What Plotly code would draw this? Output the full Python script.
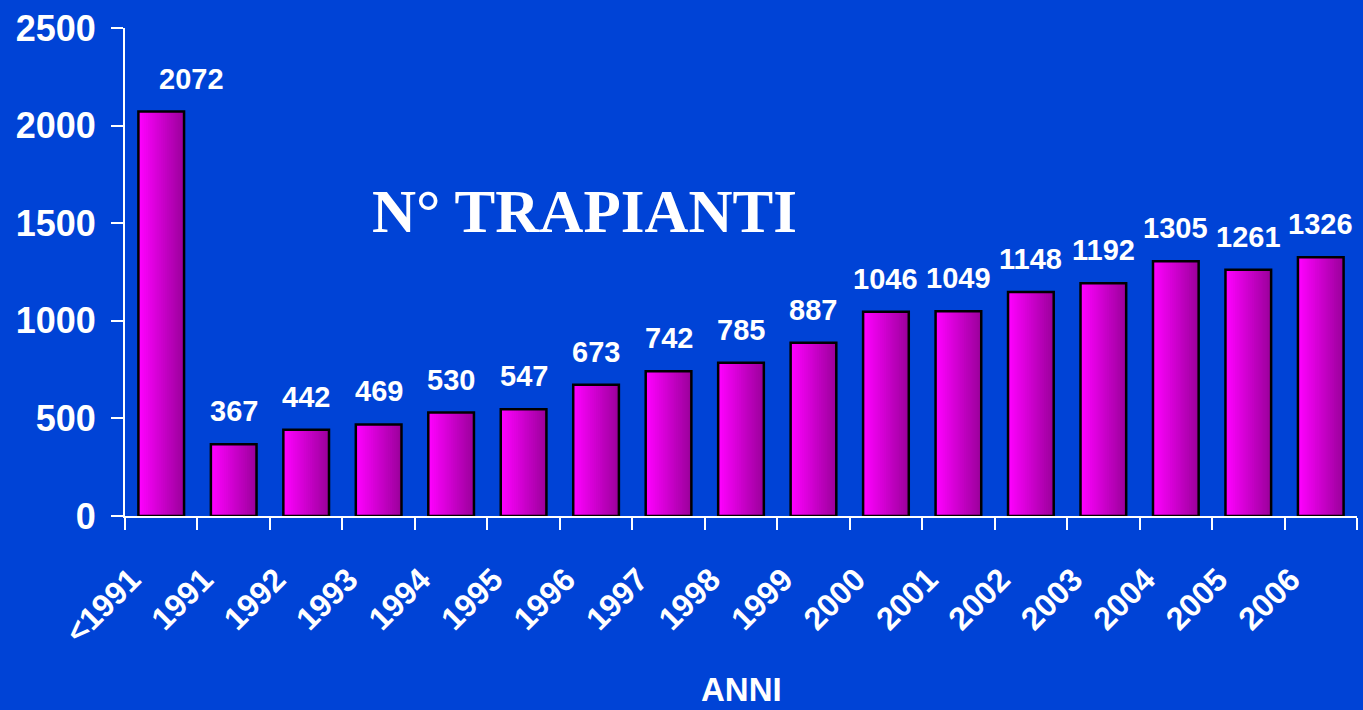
import plotly.graph_objects as go

categories = ["<1991", "1991", "1992", "1993", "1994", "1995", "1996", "1997", "1998",
              "1999", "2000", "2001", "2002", "2003", "2004", "2005", "2006"]
values = [2072, 367, 442, 469, 530, 547, 673, 742, 785, 887, 1046, 1049, 1148, 1192, 1305, 1261, 1326]
y_ticks = [0, 500, 1000, 1500, 2000, 2500]

BG = "#0043D6"
FONT = "Liberation Sans, Arial, sans-serif"
BAR_W = 0.63
N_SLICES = 24
c0 = (255, 0, 255)
c1 = (156, 0, 156)

fig = go.Figure()
sw = BAR_W / N_SLICES
for i in range(N_SLICES):
    t = i / (N_SLICES - 1)
    col = tuple(round(a + (b - a) * t) for a, b in zip(c0, c1))
    fig.add_trace(go.Bar(
        x=categories, y=values,
        width=min(sw * 2.0, BAR_W - i * sw), offset=-BAR_W / 2 + i * sw,
        marker=dict(color="rgb(%d,%d,%d)" % col, line=dict(width=0)),
        hoverinfo="skip", showlegend=False,
    ))
fig.add_trace(go.Bar(
    x=categories, y=values, width=BAR_W, offset=-BAR_W / 2,
    marker=dict(color="rgba(0,0,0,0)", line=dict(color="black", width=2.5)),
    showlegend=False,
))

for i, v in enumerate(values):
    fig.add_annotation(
        x=i, y=v, xref="x", yref="y", text=str(v), showarrow=False,
        yanchor="middle", yshift=33, xshift=30 if i == 0 else 0,
        font=dict(family=FONT, size=29, color="white", weight="bold"),
    )

fig.add_annotation(
    x=0.3726, y=0.625, xref="paper", yref="paper", text="N° TRAPIANTI",
    showarrow=False, xanchor="center", yanchor="middle",
    font=dict(family="Liberation Serif, Times New Roman, serif", size=61, color="white", weight="bold"),
)
fig.add_annotation(
    x=0.5, y=-0.355, xref="paper", yref="paper", text="ANNI",
    showarrow=False, xanchor="center", yanchor="middle",
    font=dict(family=FONT, size=33, color="white", weight="bold"),
)

fig.update_layout(
    width=1363, height=710,
    paper_bgcolor=BG, plot_bgcolor=BG,
    margin=dict(l=125, r=6, t=28, b=194),
    barmode="overlay",
    xaxis=dict(
        type="category", range=[-0.5, len(categories) - 0.5],
        showline=True, linecolor="white", linewidth=2,
        ticks="outside", tickson="boundaries", ticklen=12, tickwidth=2, tickcolor="white",
        tickangle=-45, showgrid=False, zeroline=False,
        ticklabelstandoff=30, ticklabelshift=-30,
        tickfont=dict(family=FONT, size=32, color="white", weight="bold"),
    ),
    yaxis=dict(
        range=[0, 2500], tickvals=y_ticks,
        showline=True, linecolor="white", linewidth=2,
        ticks="outside", ticklen=12, tickwidth=2, tickcolor="white",
        showgrid=False, zeroline=False, ticklabelstandoff=8,
        tickfont=dict(family=FONT, size=36, color="white", weight="bold"),
    ),
)

fig.write_html(
    "out.html",
    config={"displayModeBar": False},
    post_script="document.body.style.margin='0';document.body.style.overflow='hidden';"
                "document.body.style.background='" + BG + "';",
)
